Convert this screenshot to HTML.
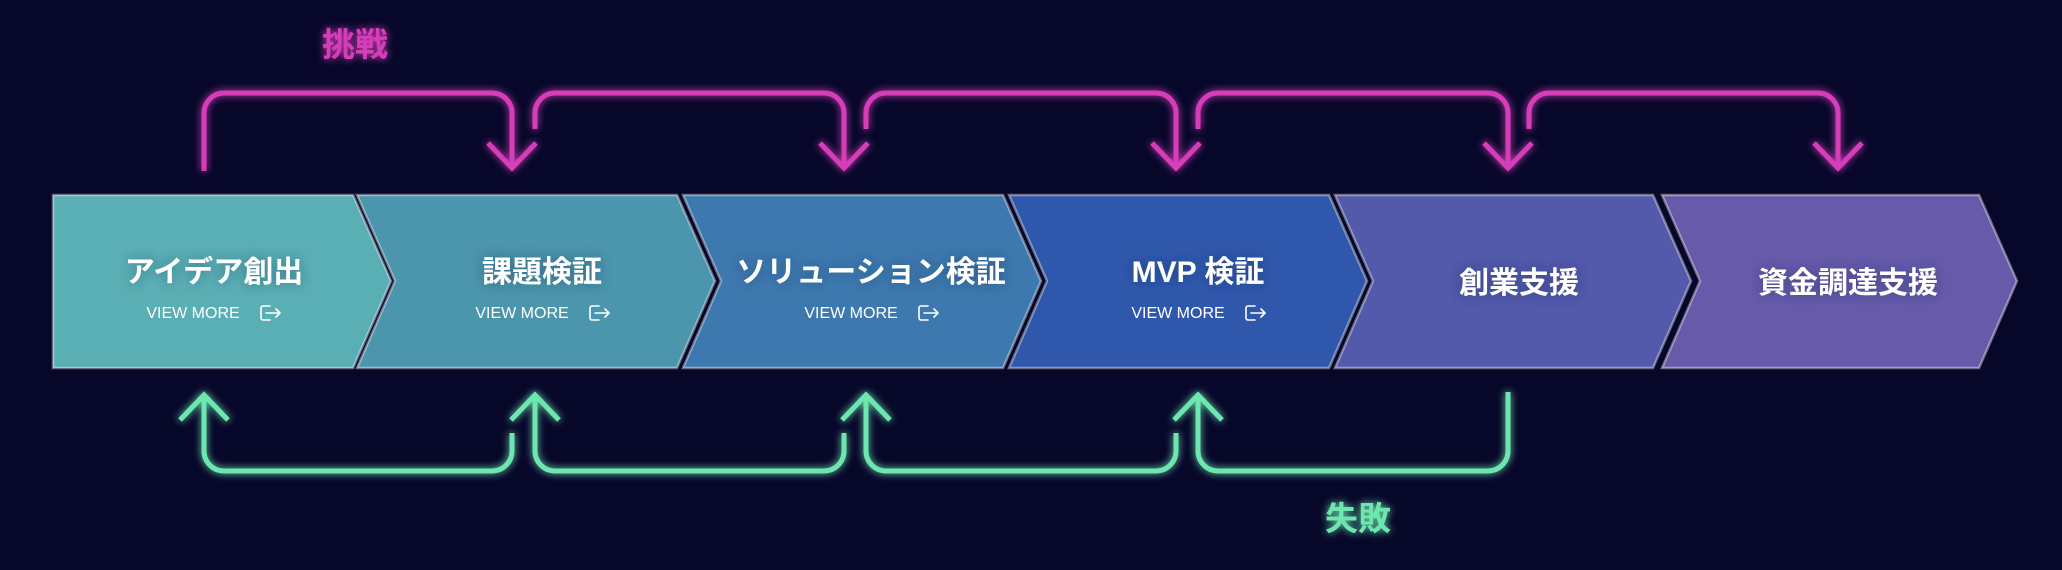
<!DOCTYPE html>
<html><head><meta charset="utf-8"><style>
html,body{margin:0;padding:0;background:#07072a;}
svg{display:block}
text{font-family:"Liberation Sans","Noto Sans CJK JP",sans-serif;}
</style></head><body>
<svg width="2062" height="570" viewBox="0 0 2062 570" xmlns="http://www.w3.org/2000/svg">
<defs>
<filter id="gm" x="-20%" y="-20%" width="140%" height="140%"><feGaussianBlur stdDeviation="4" result="b"/><feMerge><feMergeNode in="b"/><feMergeNode in="SourceGraphic"/></feMerge></filter>
<filter id="ts" x="-30%" y="-60%" width="160%" height="220%"><feGaussianBlur in="SourceAlpha" stdDeviation="6" result="b"/><feFlood flood-color="#1a2a50" flood-opacity="0.45"/><feComposite in2="b" operator="in" result="s"/><feMerge><feMergeNode in="s"/><feMergeNode in="SourceGraphic"/></feMerge></filter>
</defs>
<rect width="2062" height="570" fill="#07072a"/>
<g stroke-width="2.5" stroke-opacity="0.4" stroke="#ffffff">
<polygon points="53,195 353,195 391,281 353,368 53,368" fill="#5aafb4"/>
<polygon points="357,195 677,195 715,281 677,368 357,368 395,281" fill="#4b96ac"/>
<polygon points="683,195 1003,195 1041,281 1003,368 683,368 721,281" fill="#3d79ae"/>
<polygon points="1009,195 1329,195 1367,281 1329,368 1009,368 1047,281" fill="#2f58ad"/>
<polygon points="1335,195 1653,195 1691,281 1653,368 1335,368 1373,281" fill="#5359ab"/>
<polygon points="1662,195 1979,195 2017,281 1979,368 1662,368 1700,281" fill="#675aab"/>
</g>
<g fill="#ffffff" font-weight="bold" font-size="30" text-anchor="middle" filter="url(#ts)">
<text x="214" y="282">アイデア創出</text>
<text x="542" y="282">課題検証</text>
<text x="871" y="282">ソリューション検証</text>
<text x="1198" y="282">MVP 検証</text>
<text x="1519" y="293">創業支援</text>
<text x="1848" y="293">資金調達支援</text>
</g>
<g fill="#ffffff" font-size="16" text-anchor="middle">
<text x="193" y="318">VIEW MORE</text>
<text x="522" y="318">VIEW MORE</text>
<text x="851" y="318">VIEW MORE</text>
<text x="1178" y="318">VIEW MORE</text>
</g>
<g fill="none" stroke="#ffffff" stroke-width="1.6" stroke-linecap="round" stroke-linejoin="round">
<g id="ic"><path d="M270,306 h-7 a2,2 0 0 0 -2,2 v10 a2,2 0 0 0 2,2 h7"/><path d="M266,313 h14 M276,309 l4,4 l-4,4"/></g>
<use href="#ic" x="329"/><use href="#ic" x="658"/><use href="#ic" x="985"/>
</g>
<g fill="none" stroke="#d63cb8" stroke-width="5" stroke-linecap="butt" stroke-linejoin="miter" filter="url(#gm)">
<path d="M204,171 V113 a20,20 0 0 1 20,-20 H492 a20,20 0 0 1 20,20 V167 M488,143 L512,168 L536,143"/>
<path d="M535,129 V113 a20,20 0 0 1 20,-20 H824 a20,20 0 0 1 20,20 V167 M820,143 L844,168 L868,143"/>
<path d="M866,129 V113 a20,20 0 0 1 20,-20 H1156 a20,20 0 0 1 20,20 V167 M1152,143 L1176,168 L1200,143"/>
<path d="M1198,129 V113 a20,20 0 0 1 20,-20 H1488 a20,20 0 0 1 20,20 V167 M1484,143 L1508,168 L1532,143"/>
<path d="M1529,129 V113 a20,20 0 0 1 20,-20 H1818 a20,20 0 0 1 20,20 V167 M1814,143 L1838,168 L1862,143"/>
</g>
<g fill="none" stroke="#6ee6b0" stroke-width="5" stroke-linecap="butt" stroke-linejoin="miter" filter="url(#gm)">
<path d="M180,420 L204,395 L228,420 M204,395 V451 a20,20 0 0 0 20,20 H492 a20,20 0 0 0 20,-20 V433"/>
<path d="M511,420 L535,395 L559,420 M535,395 V451 a20,20 0 0 0 20,20 H824 a20,20 0 0 0 20,-20 V433"/>
<path d="M842,420 L866,395 L890,420 M866,395 V451 a20,20 0 0 0 20,20 H1156 a20,20 0 0 0 20,-20 V433"/>
<path d="M1174,420 L1198,395 L1222,420 M1198,395 V451 a20,20 0 0 0 20,20 H1488 a20,20 0 0 0 20,-20 V392"/>
</g>
<text x="355" y="56" fill="#d63cb8" font-size="33" font-weight="bold" text-anchor="middle" filter="url(#gm)">挑戦</text>
<text x="1358" y="530" fill="#6ee6b0" font-size="33" font-weight="bold" text-anchor="middle" filter="url(#gm)">失敗</text>
</svg>
</body></html>
